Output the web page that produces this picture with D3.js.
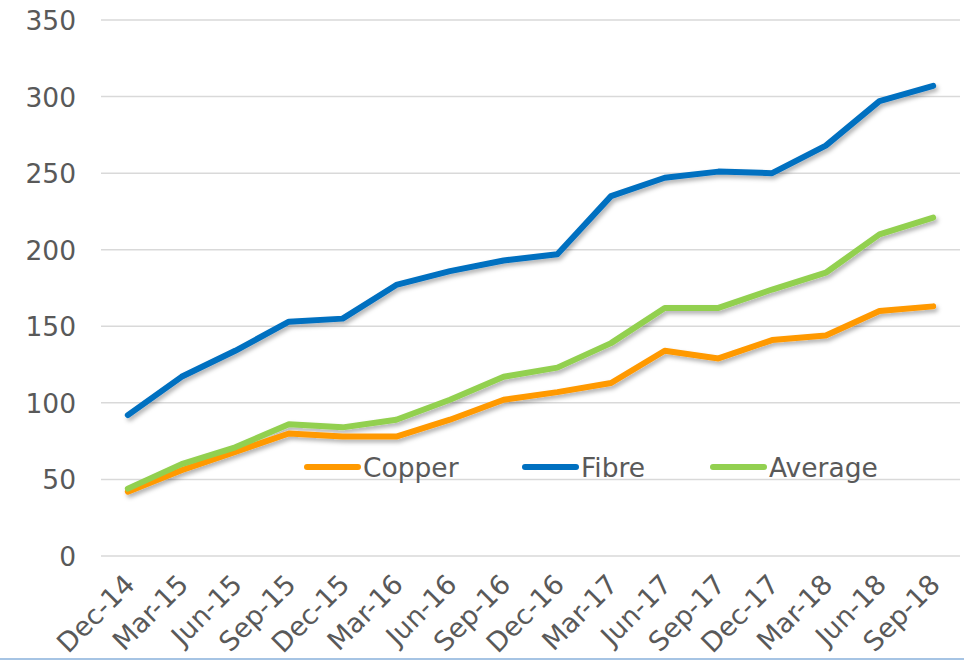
<!DOCTYPE html>
<html><head><meta charset="utf-8">
<script src="https://cdn.jsdelivr.net/npm/d3@7"></script>
<style>body{margin:0;background:#fff}svg{display:block}text{font-family:"DejaVu Sans",Verdana,sans-serif;fill:#595959}</style>
</head><body>
<svg id="c" width="964" height="660"></svg>
<script>
const categories = ["Dec-14","Mar-15","Jun-15","Sep-15","Dec-15","Mar-16","Jun-16","Sep-16","Dec-16","Mar-17","Jun-17","Sep-17","Dec-17","Mar-18","Jun-18","Sep-18"];
const copper  = [42,56,68,80,78,78,89,102,107,113,134,129,141,144,160,163];
const fibre   = [92,117,134,153,155,177,186,193,197,235,247,251,250,268,297,307];
const average = [44,60,71,86,84,89,102,117,123,139,162,162,174,185,210,221];
const yTicks  = [0,50,100,150,200,250,300,350];
const seriesNames = ["Copper","Fibre","Average"];
const seriesColors = ["#FF9900","#0070C0","#92D050"];

const svg = d3.select("#c");
const x = d3.scalePoint().domain(categories).range([101, 960]).padding(0.5);
const y = d3.scaleLinear().domain([0, 350]).range([556, 20]);

const defs = svg.append("defs");
const f = defs.append("filter").attr("id","sh").attr("x","-5%").attr("y","-5%").attr("width","110%").attr("height","120%");
f.append("feDropShadow").attr("dx",2).attr("dy",3).attr("stdDeviation",2).attr("flood-color","#000").attr("flood-opacity",0.3);

// gridlines
svg.append("g").selectAll("line").data(yTicks).join("line")
  .attr("x1",101).attr("x2",960).attr("y1",d=>y(d)).attr("y2",d=>y(d))
  .attr("stroke","#d9d9d9").attr("stroke-width",1.5);

// y axis labels
const yAxis = svg.append("g").attr("transform","translate(76,0)")
  .call(d3.axisLeft(y).tickValues(yTicks).tickSize(0).tickPadding(0));
yAxis.select(".domain").remove();
yAxis.selectAll("text").style("font-size","26.5px").attr("fill","#595959").attr("dy","0.36em");

// x axis labels
const xAxis = svg.append("g").attr("transform","translate(0,556)")
  .call(d3.axisBottom(x).tickSize(0).tickPadding(0));
xAxis.select(".domain").remove();
xAxis.selectAll("text").style("font-size","27px").attr("fill","#595959")
  .attr("text-anchor","end").attr("dy",null).attr("y",0)
  .attr("transform","translate(8,30) rotate(-45)");

// lines
const data = [copper, fibre, average];
const line = d3.line().x((d,i)=>x(categories[i])).y(d=>y(d));
svg.append("g").attr("filter","url(#sh)").selectAll("path").data(data).join("path")
  .attr("d", d=>line(d)).attr("fill","none")
  .attr("stroke",(d,i)=>seriesColors[i]).attr("stroke-width",6)
  .attr("stroke-linejoin","round").attr("stroke-linecap","round");

// legend
const legX = [304, 522, 710];
const lg = svg.append("g").selectAll("g").data(seriesNames).join("g")
  .attr("transform",(d,i)=>`translate(${legX[i]},467)`);
lg.append("line").attr("x1",3).attr("x2",54).attr("y1",0).attr("y2",0)
  .attr("stroke",(d,i)=>seriesColors[i]).attr("stroke-width",6).attr("stroke-linecap","round");
lg.append("text").attr("x",59).attr("y",0).attr("dy","0.36em").style("font-size","26.5px").text(d=>d);

// bottom border
svg.append("line").attr("x1",0).attr("x2",964).attr("y1",659).attr("y2",659).attr("stroke","#a6c4e4").attr("stroke-width",2);
</script>
</body></html>
